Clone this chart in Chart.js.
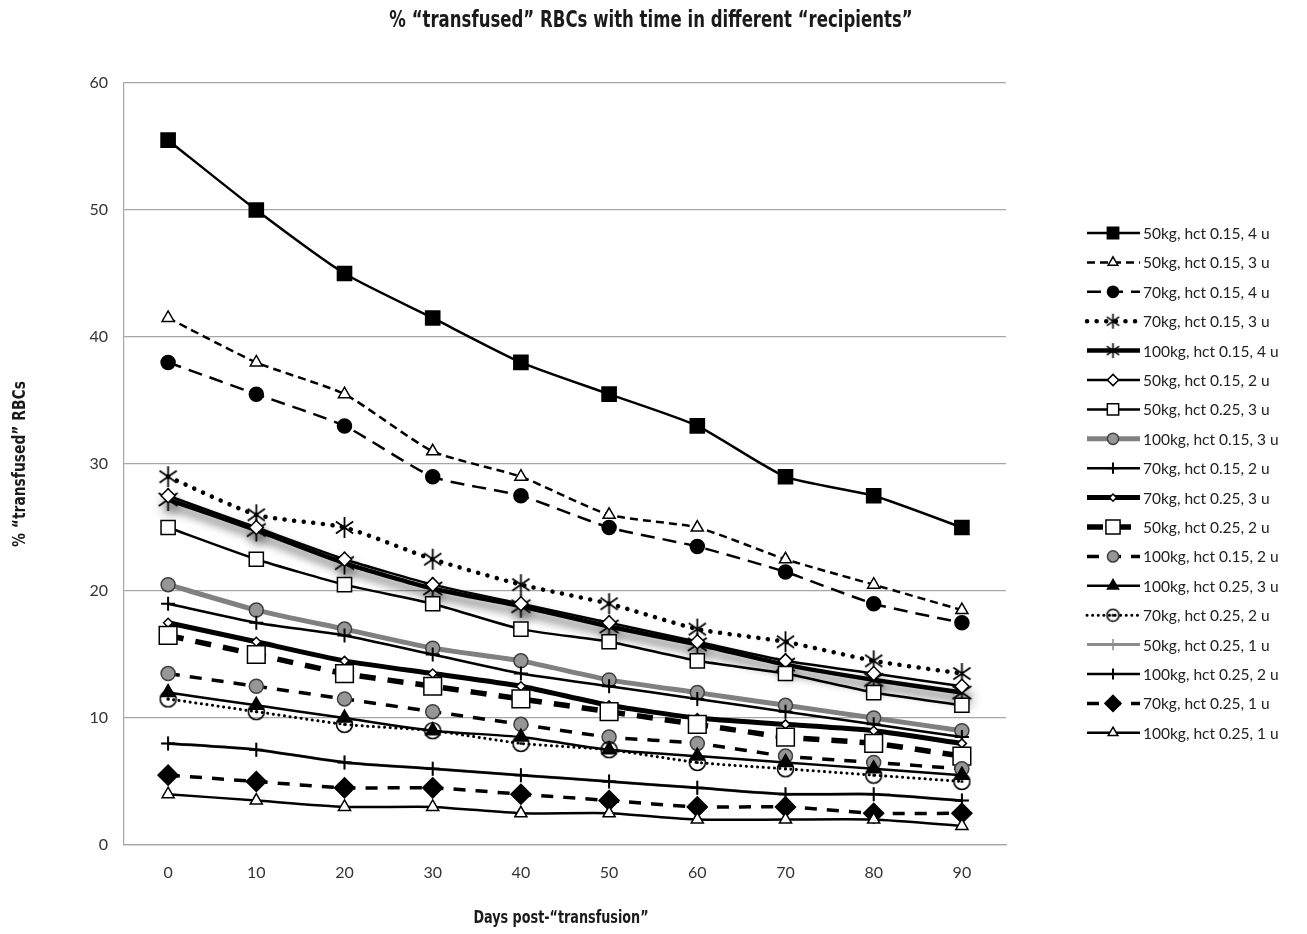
<!DOCTYPE html>
<html><head><meta charset="utf-8">
<script src="https://cdn.jsdelivr.net/npm/chart.js@4.4.1/dist/chart.umd.min.js"></script>
<style>html,body{margin:0;padding:0;background:#fff;} #wrap{width:1307px;height:934px;}</style>
</head><body><div id="wrap"><canvas id="c" width="1307" height="934"></canvas></div>
<script>
// ---- data ----
const days = ['0','10','20','30','40','50','60','70','80','90'];
const chartTitle = '% “transfused” RBCs with time in different “recipients”';
const xTitle = 'Days post-“transfusion”';
const yTitle = '% “transfused” RBCs';
const seriesNames = [
  '50kg, hct 0.15, 4 u','50kg, hct 0.15, 3 u','70kg, hct 0.15, 4 u','70kg, hct 0.15, 3 u',
  '100kg, hct 0.15, 4 u','50kg, hct 0.15, 2 u','50kg, hct 0.25, 3 u','100kg, hct 0.15, 3 u',
  '70kg, hct 0.15, 2 u','70kg, hct 0.25, 3 u','50kg, hct 0.25, 2 u','100kg, hct 0.15, 2 u',
  '100kg, hct 0.25, 3 u','70kg, hct 0.25, 2 u','50kg, hct 0.25, 1 u','100kg, hct 0.25, 2 u',
  '70kg, hct 0.25, 1 u','100kg, hct 0.25, 1 u'
];
const s50_015_4  = [55.5, 50, 45, 41.5, 38, 35.5, 33, 29, 27.5, 25];
const s50_015_3  = [41.5, 38, 35.5, 31, 29, 26, 25, 22.5, 20.5, 18.5];
const s70_015_4  = [38, 35.5, 33, 29, 27.5, 25, 23.5, 21.5, 19, 17.5];
const s70_015_3  = [29, 26, 25, 22.5, 20.5, 19, 17, 16, 14.5, 13.5];
const s100_015_4 = [27.2, 24.8, 22.2, 20.2, 18.8, 17.2, 15.8, 14.2, 13, 12];
const s50_015_2  = [27.5, 25, 22.5, 20.5, 19, 17.5, 16, 14.5, 13.5, 12.5];
const s50_025_3  = [25, 22.5, 20.5, 19, 17, 16, 14.5, 13.5, 12, 11];
const s100_015_3 = [20.5, 18.5, 17, 15.5, 14.5, 13, 12, 11, 10, 9];
const s70_015_2  = [19, 17.5, 16.5, 15, 13.5, 12.5, 11.5, 10.5, 9.5, 8.5];
const s70_025_3  = [17.5, 16, 14.5, 13.5, 12.5, 11, 10, 9.5, 9, 8];
const s50_025_2  = [16.5, 15, 13.5, 12.5, 11.5, 10.5, 9.5, 8.5, 8, 7];
const s100_015_2 = [13.5, 12.5, 11.5, 10.5, 9.5, 8.5, 8, 7, 6.5, 6];
const s100_025_3 = [12, 11, 10, 9, 8.5, 7.5, 7, 6.5, 6, 5.5];
const s70_025_2  = [11.5, 10.5, 9.5, 9, 8, 7.5, 6.5, 6, 5.5, 5];
const s50_025_1  = [8, 7.5, 6.5, 6, 5.5, 5, 4.5, 4, 4, 3.5];
const s100_025_2 = [8, 7.5, 6.5, 6, 5.5, 5, 4.5, 4, 4, 3.5];
const s70_025_1  = [5.5, 5, 4.5, 4.5, 4, 3.5, 3, 3, 2.5, 2.5];
const s100_025_1 = [4, 3.5, 3, 3, 2.5, 2.5, 2, 2, 2, 1.5];
const yTicks = [0, 10, 20, 30, 40, 50, 60];

// ---- custom markers ----
function asterisk(size, lw) {
  const c = document.createElement('canvas'); c.width = size; c.height = size;
  const g = c.getContext('2d'); const m = size / 2, r = size / 2 - 1;
  g.strokeStyle = '#000'; g.lineWidth = lw; g.beginPath();
  [90, 35, 145].forEach(a => {
    const t = a * Math.PI / 180;
    g.moveTo(m - Math.cos(t) * r, m - Math.sin(t) * r);
    g.lineTo(m + Math.cos(t) * r, m + Math.sin(t) * r);
  });
  g.stroke(); return c;
}
function circleDot(size) {
  const c = document.createElement('canvas'); c.width = size; c.height = size;
  const g = c.getContext('2d'); const m = size / 2;
  g.strokeStyle = '#000'; g.lineWidth = 1.6;
  g.beginPath(); g.arc(m, m, m - 1.5, 0, Math.PI * 2); g.stroke();
  g.fillStyle = '#000'; g.beginPath(); g.arc(m, m, 1.5, 0, Math.PI * 2); g.fill();
  return c;
}
const star4 = asterisk(23, 1.8), star5 = asterisk(25, 1.8), cdot = circleDot(19);
const star4L = asterisk(17, 1.6), star5L = asterisk(17, 1.6), cdotL = circleDot(15);

function mk(i, data, o) {
  return Object.assign({
    label: seriesNames[i], data, borderColor: '#000', borderWidth: 2.5, tension: 0.2, fill: false,
    pointBorderColor: '#000', pointBackgroundColor: '#fff', pointBorderWidth: 1.5,
    pointRadius: 7, pointHoverRadius: 7, order: 18 - i
  }, o);
}
const GREYF = '#969696', GREYB = '#404040';
const datasets = [
  mk(0, s50_015_4, {pointStyle: 'rect', pointRadius: 10, pointBackgroundColor: '#000'}),
  mk(1, s50_015_3, {borderDash: [8, 5], pointStyle: 'triangle', pointRadius: 7}),
  mk(2, s70_015_4, {borderDash: [14, 8], pointStyle: 'circle', pointRadius: 7, pointBackgroundColor: '#000'}),
  mk(3, s70_015_3, {borderDash: [0.1, 9.5], borderCapStyle: 'round', borderWidth: 4.5, pointStyle: star4}),
  mk(4, s100_015_4, {borderWidth: 4.5, pointStyle: star5}),
  mk(5, s50_015_2, {pointStyle: 'rectRot', pointRadius: 7}),
  mk(6, s50_025_3, {pointStyle: 'rect', pointRadius: 10}),
  mk(7, s100_015_3, {borderColor: '#808080', borderWidth: 5, pointStyle: 'circle', pointRadius: 7, pointBackgroundColor: GREYF, pointBorderColor: GREYB}),
  mk(8, s70_015_2, {pointStyle: 'cross', pointRadius: 7, pointBorderWidth: 2}),
  mk(9, s70_025_3, {borderWidth: 5, pointStyle: 'rectRot', pointRadius: 4.5}),
  mk(10, s50_025_2, {borderWidth: 5.5, borderDash: [16, 12], pointStyle: 'rect', pointRadius: 12.5}),
  mk(11, s100_015_2, {borderWidth: 3.5, borderDash: [12, 10], pointStyle: 'circle', pointRadius: 7, pointBackgroundColor: GREYF, pointBorderColor: GREYB}),
  mk(12, s100_025_3, {pointStyle: 'triangle', pointRadius: 8, pointBackgroundColor: '#000'}),
  mk(13, s70_025_2, {borderDash: [0.1, 5.5], borderCapStyle: 'round', borderWidth: 3, pointStyle: cdot}),
  mk(14, s50_025_1, {borderColor: '#8c8c8c', borderWidth: 3, pointStyle: 'cross', pointRadius: 7, pointBorderColor: '#8c8c8c', pointBorderWidth: 1.5}),
  mk(15, s100_025_2, {pointStyle: 'cross', pointRadius: 7, pointBorderWidth: 2}),
  mk(16, s70_025_1, {borderWidth: 3.5, borderDash: [12, 10], pointStyle: 'rectRot', pointRadius: 10, pointBackgroundColor: '#000'}),
  mk(17, s100_025_1, {pointStyle: 'triangle', pointRadius: 7})
];
const legendImg = {3: star4L, 4: star5L, 13: cdotL};

const shadowPlugin = {
  id: 'lineShadow',
  beforeDatasetDraw(chart, args) {
    if (args.index === 4) {
      const c = chart.ctx; c.save();
      c.shadowColor = 'rgba(0,0,0,0.7)'; c.shadowBlur = 10; c.shadowOffsetX = 2; c.shadowOffsetY = 6;
    }
  },
  afterDatasetDraw(chart, args) { if (args.index === 4) chart.ctx.restore(); }
};

const sideLegend = {
  id: 'sideLegend',
  afterDraw(chart) {
    const ctx = chart.ctx;
    chart.data.datasets.forEach((ds, i) => {
      const y = 233 + i * 29.4;
      ctx.save();
      ctx.strokeStyle = ds.borderColor; ctx.lineWidth = ds.borderWidth;
      ctx.setLineDash(ds.borderDash || []); ctx.lineCap = ds.borderCapStyle || 'butt';
      ctx.beginPath(); ctx.moveTo(1087, y); ctx.lineTo(1140, y); ctx.stroke();
      ctx.setLineDash([]);
      ctx.fillStyle = ds.pointBackgroundColor; ctx.strokeStyle = ds.pointBorderColor; ctx.lineWidth = ds.pointBorderWidth;
      const ps = legendImg[i] || ds.pointStyle;
      Chart.helpers.drawPoint(ctx, {pointStyle: ps, radius: ds.pointRadius * 0.8, borderWidth: ds.pointBorderWidth, rotation: 0}, 1113, y);
      ctx.fillStyle = '#222'; ctx.font = '15.5px Lato, "Open Sans", sans-serif';
      ctx.textBaseline = 'middle'; ctx.textAlign = 'left';
      ctx.fillText(ds.label, 1143, y + 1);
      ctx.restore();
    });
  }
};

function drawNarrow(ctx, t, x, y, size, sx) {
  ctx.save(); ctx.translate(x, y); ctx.scale(sx, 1);
  ctx.font = 'bold ' + size + 'px "DejaVu Sans", sans-serif';
  ctx.textAlign = 'center'; ctx.textBaseline = 'middle'; ctx.fillStyle = '#1a1a1a';
  ctx.fillText(t, 0, 0); ctx.restore();
}
const textPlugin = {
  id: 'narrowTexts',
  afterDraw(chart) {
    const ctx = chart.ctx, ca = chart.chartArea;
    drawNarrow(ctx, chartTitle, 651, 21, 23, 0.72);
    drawNarrow(ctx, xTitle, (ca.left + ca.right) / 2 - 4, 918, 18, 0.71);
    ctx.save(); ctx.translate(20, (ca.top + ca.bottom) / 2); ctx.rotate(-Math.PI / 2);
    drawNarrow(ctx, yTitle, 0, 0, 18, 0.77); ctx.restore();
  }
};

new Chart(document.getElementById('c'), {
  type: 'line',
  data: {labels: days, datasets},
  plugins: [shadowPlugin, sideLegend, textPlugin],
  options: {
    responsive: false, animation: false,
    layout: {padding: {left: 0, right: 301, top: 83, bottom: 0}},
    plugins: {legend: {display: false}, tooltip: {enabled: false}, title: {display: false}},
    scales: {
      x: {
        offset: true,
        grid: {display: false, drawTicks: false},
        border: {display: true, color: '#a6a6a6', width: 1.2},
        ticks: {padding: 18, color: '#333', font: {family: 'Lato, sans-serif', size: 16}},
        afterFit(s) { s.height = 89; }
      },
      y: {
        min: 0, max: 60,
        afterBuildTicks(s) { s.ticks = yTicks.map(v => ({value: v})); },
        grid: {color: '#a6a6a6', lineWidth: 1.2, drawTicks: false},
        border: {display: true, color: '#a6a6a6', width: 1.2},
        ticks: {padding: 16, color: '#333', font: {family: 'Lato, sans-serif', size: 16}},
        afterFit(s) { s.width = 124; }
      }
    }
  }
});
</script></body></html>
